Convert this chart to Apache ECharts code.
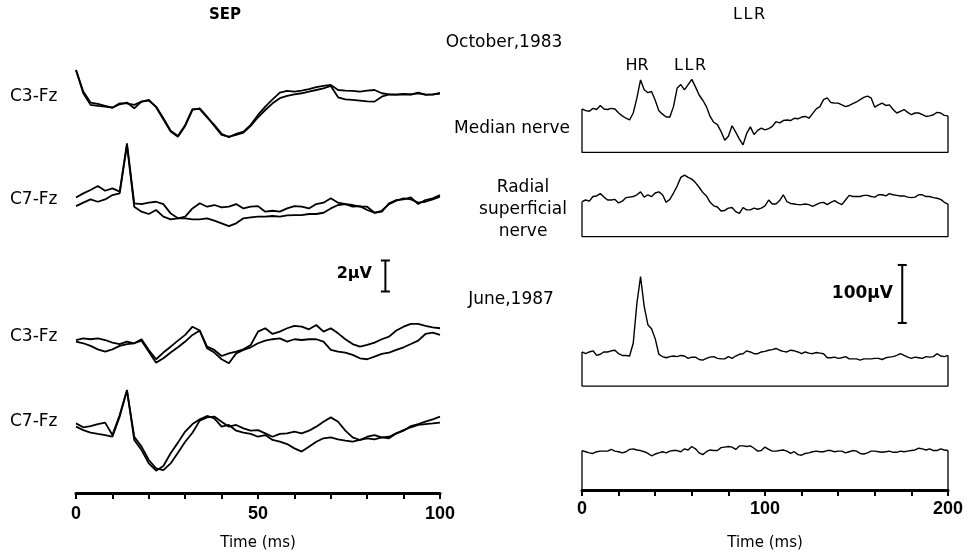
<!DOCTYPE html>
<html>
<head>
<meta charset="utf-8">
<script src="https://cdn.jsdelivr.net/npm/echarts@6/dist/echarts.min.js"></script>
<style>
  * { margin: 0; padding: 0; }
  html, body { width: 971px; height: 557px; background: #fff; }
  #chart { width: 971px; height: 557px; }
</style>
</head>
<body>
<div id="chart"></div>
<script>
// SEP: time base (ms) and two superimposed averages per derivation (µV)
const sepTime = [0,2,4,6,8,10,12,14,16,18,20,22,24,26,28,30,32,34,36,38,40,42,44,46,48,50,
  52,54,56,58,60,62,64,66,68,70,72,74,76,78,80,82,84,86,88,90,92,94,96,98,100];
const c3Oct1 = [2.06,0.67,-0.04,-0.13,-0.26,-0.37,-0.15,-0.04,-0.41,0.02,0.09,-0.30,-1.05,-1.85,-2.19,-1.48,-0.47,-0.47,-0.99,-1.48,-2.06,-2.28,-2.06,-1.91,-1.48,-0.84,
  -0.30,0.17,0.60,0.71,0.67,0.73,0.82,0.95,1.03,1.10,0.77,0.73,0.71,0.67,0.73,0.77,0.56,0.49,0.47,0.52,0.49,0.56,0.49,0.47,0.56];
const c3Oct2 = [2.06,0.56,-0.19,-0.26,-0.30,-0.37,-0.09,-0.09,-0.19,0.02,0.13,-0.34,-1.12,-1.91,-2.24,-1.55,-0.52,-0.41,-0.95,-1.55,-2.13,-2.24,-2.13,-1.98,-1.55,-0.99,
  -0.52,-0.09,0.24,0.39,0.49,0.56,0.67,0.77,0.88,1.03,0.30,0.17,0.13,0.09,0.04,0.02,0.34,0.49,0.47,0.49,0.47,0.60,0.45,0.49,0.56];
const c7Oct1 = [-0.09,0.17,0.39,0.65,0.34,0.49,0.28,3.40,-0.47,-0.52,-0.43,-0.37,-0.52,-1.12,-1.44,-1.33,-0.80,-0.47,-0.69,-0.58,-0.73,-0.69,-0.52,-0.80,-0.69,-0.65,
  -1.01,-0.95,-1.01,-0.80,-0.65,-0.69,-0.80,-0.52,-0.43,-0.15,-0.43,-0.52,-0.69,-0.65,-0.90,-1.08,-1.01,-0.47,-0.26,-0.22,-0.09,-0.52,-0.26,-0.15,0.06];
const c7Oct2 = [-0.65,-0.43,-0.22,-0.37,-0.22,0.06,0.17,3.29,-0.69,-1.01,-1.16,-0.90,-1.33,-1.51,-1.44,-1.44,-1.51,-1.51,-1.44,-1.59,-1.76,-1.94,-1.76,-1.44,-1.38,-1.33,
  -1.33,-1.29,-1.33,-1.25,-1.23,-1.23,-1.16,-1.16,-1.08,-0.80,-0.58,-0.52,-0.58,-0.69,-0.69,-1.08,-0.95,-0.52,-0.30,-0.15,-0.22,-0.43,-0.37,-0.22,-0.04];
const c3Jun1 = [-0.39,-0.28,-0.34,-0.28,-0.39,-0.56,-0.65,-0.49,-0.60,-0.34,-1.03,-1.63,-1.20,-0.82,-0.43,-0.06,0.47,0.22,-0.82,-1.03,-1.42,-1.25,-1.14,-0.99,-0.71,0.15,
  0.37,0,0.15,0.37,0.52,0.47,0.30,0.58,0.15,0.37,0.04,-0.34,-0.65,-0.82,-0.71,-0.56,-0.34,-0.17,0.22,0.47,0.65,0.65,0.52,0.43,0.37];
const c3Jun2 = [-0.49,-0.60,-0.77,-0.99,-1.14,-0.99,-0.77,-0.65,-0.60,-0.43,-1.14,-1.85,-1.57,-1.20,-0.86,-0.49,-0.06,0.22,-0.92,-1.20,-1.63,-1.89,-1.25,-1.03,-0.86,-0.60,
  -0.43,-0.34,-0.28,-0.49,-0.34,-0.39,-0.34,-0.34,-0.49,-1.03,-1.14,-1.20,-1.35,-1.57,-1.63,-1.46,-1.29,-1.20,-1.03,-0.86,-0.65,-0.43,0,0.09,-0.06];
const c7Jun1 = [-0.22,-0.47,-0.39,-0.26,-0.17,-0.97,0.32,1.94,-1.29,-1.94,-2.80,-3.27,-2.97,-2.15,-1.46,-0.75,-0.26,0.04,0.26,0.11,-0.43,-0.32,-0.69,-0.82,-0.90,-1.08,
  -0.97,-1.29,-1.40,-1.55,-1.83,-2.04,-1.72,-1.40,-1.18,-1.12,-1.25,-1.33,-1.40,-1.29,-1.18,-1.25,-1.12,-1.18,-0.86,-0.65,-0.47,-0.32,-0.26,-0.22,-0.17];
const c7Jun2 = [-0.43,-0.65,-0.82,-0.90,-0.97,-1.08,0.22,1.89,-1.08,-1.72,-2.58,-3.12,-3.23,-2.80,-2.11,-1.40,-0.82,-0.04,0.17,0.22,-0.11,-0.43,-0.32,-0.54,-0.69,-0.65,
  -0.86,-1.08,-0.90,-0.86,-0.75,-0.86,-0.69,-0.43,-0.11,0.17,-0.11,-0.69,-1.12,-1.29,-1.08,-0.97,-1.12,-1.08,-0.86,-0.69,-0.39,-0.26,-0.11,0.04,0.22];

// LLR: time base (ms) and rectified EMG averages (µV above trace baseline)
const llrTime = [0,2,4,6,8,10,12,14,16,18,20,22,24,26,28,30,32,34,36,38,40,42,44,46,48,50,
  52,54,56,58,60,62,64,66,68,70,72,74,76,78,80,82,84,86,88,90,92,94,96,98,100,
  102,104,106,108,110,112,114,116,118,120,122,124,126,128,130,132,134,136,138,140,142,144,146,148,150,
  152,154,156,158,160,162,164,166,168,170,172,174,176,178,180,182,184,186,188,190,192,194,196,198,200];
const medianOct = [75,72,71,76,74,81,75,74,76,75,68,63,59,56,68,94,125,108,103,105,90,72,66,61,61,79,111,117,108,117,126,113,99,90,79,62,52,48,36,21,
  28,46,35,23,13,33,44,31,38,42,39,41,45,53,51,55,56,55,59,58,61,62,59,67,75,79,91,94,86,85,85,82,79,81,84,87,91,95,97,94,
  78,82,85,81,82,74,68,71,74,69,65,68,68,65,62,63,65,69,68,64,63];
const radialOct = [60,63,61,69,70,74,68,63,63,64,58,61,67,68,69,72,77,68,72,69,75,77,72,59,64,75,87,102,106,102,99,93,85,76,70,59,53,51,44,45,
  49,50,43,40,50,46,46,49,47,49,53,63,56,56,62,72,60,57,56,55,55,56,55,52,55,58,59,55,59,62,58,55,63,71,69,69,69,71,71,69,
  68,72,72,70,74,72,71,70,70,68,67,68,72,72,69,69,67,66,64,59,56];
const medianJun = [59,56,59,61,53,55,59,59,61,62,56,53,53,52,74,143,189,137,106,99,82,55,51,49,51,52,51,53,52,48,50,50,46,45,48,50,51,48,47,47,
  51,48,52,55,56,61,59,56,56,59,60,62,63,65,62,60,59,62,61,59,56,59,57,56,58,57,56,49,49,50,48,49,51,47,47,47,45,47,47,47,
  48,48,46,49,50,51,53,56,53,50,48,50,49,48,51,50,51,56,52,51,53];
const radialJun = [68,66,64,63,66,67,67,67,70,67,66,64,66,70,71,69,68,66,63,59,62,64,66,64,67,68,68,66,71,69,75,71,64,61,66,69,68,68,73,74,
  75,74,70,76,76,75,76,72,67,68,74,70,67,67,68,69,67,63,66,61,60,63,64,66,67,66,66,68,68,66,67,67,64,66,68,67,63,62,64,67,
  67,66,65,66,67,65,65,67,66,67,68,69,72,71,69,71,68,68,71,69,68];

const sepTicks = [0, 50, 100];
const llrTicks = [0, 100, 200];

// vertical placement of each row on its panel (axis units)
const sepRows = [
  { a: c3Oct1, b: c3Oct2, base: 25.23 },
  { a: c7Oct1, b: c7Oct2, base: 19.16 },
  { a: c3Jun1, b: c3Jun2, base: 10.26 },
  { a: c7Jun1, b: c7Jun2, base: 4.71 }
];
const llrRows = [
  { v: medianOct, base: 582 },
  { v: radialOct, base: 437 },
  { v: medianJun, base: 179 },
  { v: radialJun, base: 0 }
];

const FONT = '"DejaVu Sans", sans-serif';
const pairs = (t, v, base) => t.map((x, i) => [x, base + v[i]]);
const boxOf = (t, v, base) => [
  [t[0], base + v[0]], [t[0], base], [t[t.length - 1], base], [t[t.length - 1], base + v[v.length - 1]]
];
const lineS = (xi, data, width) => ({
  type: 'line', xAxisIndex: xi, yAxisIndex: xi, data: data,
  symbol: 'none', smooth: false, silent: true, clip: false,
  lineStyle: { color: '#000', width: width }
});

const series = [];
sepRows.forEach(r => {
  series.push(lineS(0, pairs(sepTime, r.a, r.base), 1.8));
  series.push(lineS(0, pairs(sepTime, r.b, r.base), 1.8));
});
llrRows.forEach(r => {
  series.push(lineS(1, pairs(llrTime, r.v, r.base), 1.4));
  series.push(lineS(1, boxOf(llrTime, r.v, r.base), 1.3));
});
// calibration bars
series.push(Object.assign(lineS(0, [[85, 13], [85, 15]], 2), {
  symbol: 'rect', symbolSize: [9, 2], showSymbol: true, itemStyle: { color: '#000' }
}));
series.push(Object.assign(lineS(1, [[175, 288], [175, 388]], 2), {
  symbol: 'rect', symbolSize: [9, 2], showSymbol: true, itemStyle: { color: '#000' }
}));

function xAx(grid, max, step, ticks, gap, margin) {
  return {
    gridIndex: grid, type: 'value', min: 0, max: max, interval: step,
    axisLine: { show: true, onZero: false, lineStyle: { color: '#000', width: 3 } },
    axisTick: { show: true, length: 6, lineStyle: { color: '#000', width: 2 } },
    axisLabel: {
      formatter: v => ticks.includes(v) ? String(v) : '',
      fontFamily: '"Liberation Sans", Arial, sans-serif', fontWeight: 'bold',
      fontSize: 18, color: '#000', margin: margin
    },
    splitLine: { show: false },
    name: 'Time (ms)', nameLocation: 'middle', nameGap: gap,
    nameTextStyle: { fontFamily: FONT, fontSize: 15, color: '#000' }
  };
}

function txt(text, x, y, align, size, weight) {
  return {
    type: 'text', x: x, y: y, silent: true,
    style: {
      text: text, fill: '#000',
      font: (weight || 'normal') + ' ' + size + 'px ' + FONT,
      align: align, textAlign: align,
      verticalAlign: 'middle', textVerticalAlign: 'middle', lineHeight: 22
    }
  };
}

const chart = echarts.init(document.getElementById('chart'), null, { renderer: 'canvas' });
chart.setOption({
  animation: false,
  backgroundColor: '#fff',
  grid: [
    { left: 76, width: 364, top: 59, bottom: 64 },
    { left: 582, width: 366, top: 55, bottom: 67 }
  ],
  xAxis: [xAx(0, 100, 10, sepTicks, 43, 12), xAx(1, 200, 20, llrTicks, 46, 10)],
  yAxis: [
    { gridIndex: 0, type: 'value', min: 0, max: 28, show: false },
    { gridIndex: 1, type: 'value', min: 0, max: 750, show: false }
  ],
  series: series,
  graphic: [
    txt('SEP', 225, 15, 'center', 15, 'bold'),
    txt('L\u200AL\u200AR', 749, 15, 'center', 16),
    txt('October,1983', 504, 43, 'center', 17),
    txt('HR', 637, 66, 'center', 16),
    txt('L\u200AL\u200AR', 690, 66, 'center', 16),
    txt('Median nerve', 570, 129, 'right', 17),
    txt('Radial\nsuperficial\nnerve', 523, 210, 'center', 17),
    txt('June,1987', 511, 300, 'center', 17),
    txt('C3-Fz', 10, 97, 'left', 17),
    txt('C7-Fz', 10, 200, 'left', 17),
    txt('C3-Fz', 10, 337, 'left', 17),
    txt('C7-Fz', 10, 422, 'left', 17),
    txt('2µV', 372, 274, 'right', 16, 'bold'),
    txt('100µV', 893, 294, 'right', 17, 'bold')
  ]
});
</script>
</body>
</html>
